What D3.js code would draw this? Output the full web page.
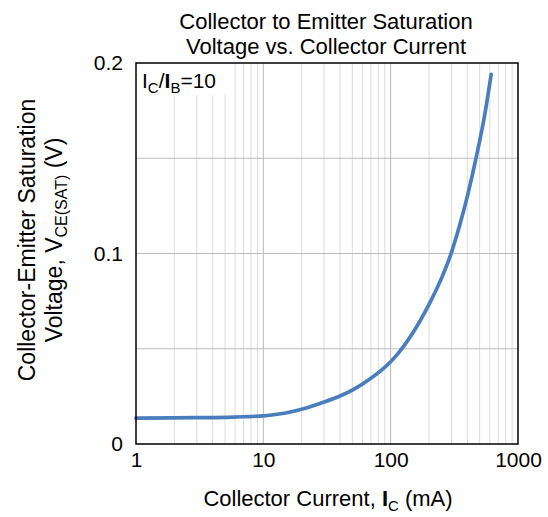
<!DOCTYPE html>
<html>
<head>
<meta charset="utf-8">
<script src="https://cdn.jsdelivr.net/npm/d3@7"></script>
<style>
  body { margin: 0; background: #fff; }
  text { font-family: "Liberation Sans", Arial, sans-serif; fill: #000; }
</style>
</head>
<body>
<div id="chart"></div>
<script>
// collector current (mA) and VCE(SAT) (V)
var currentMA = [1, 2, 3, 5, 7, 10, 15, 20, 30, 40, 50, 70, 100, 115, 150, 200, 250, 300, 350, 400, 475, 550, 615];
var vceSat = [0.0136, 0.0137, 0.0138, 0.0140, 0.0143, 0.0148, 0.0163, 0.0182, 0.0220, 0.0252, 0.0283, 0.0345, 0.0432, 0.0477, 0.0585, 0.0733, 0.0868, 0.1005, 0.1153, 0.1300, 0.1520, 0.1735, 0.1940];
var xTicks = [1, 10, 100, 1000];
var yTicks = [0, 0.1, 0.2];
var yGrid = [0.05, 0.1, 0.15];

var width = 548, height = 517,
    margin = {top: 63, right: 30, bottom: 73, left: 136},
    fs = 21, tfs = 22;

var svg = d3.select("#chart").append("svg")
    .attr("width", width).attr("height", height);

var x = d3.scaleLog()
    .domain([1, 1000])
    .range([margin.left, width - margin.right]);

var y = d3.scaleLinear()
    .domain([0, 0.2])
    .range([height - margin.bottom, margin.top]);

var data = currentMA.map(function(d, i) { return {i: d, v: vceSat[i]}; });

// grid
var minor = [];
[1, 10, 100].forEach(function(dec) {
    for (var k = 2; k <= 9; k++) minor.push(dec * k);
});

svg.append("g").selectAll("line").data(minor).enter().append("line")
    .attr("x1", function(d) { return x(d); }).attr("x2", function(d) { return x(d); })
    .attr("y1", y(0)).attr("y2", y(0.2))
    .attr("stroke", "#dcdcdc").attr("stroke-width", 1);

svg.append("g").selectAll("line").data([10, 100]).enter().append("line")
    .attr("x1", function(d) { return x(d); }).attr("x2", function(d) { return x(d); })
    .attr("y1", y(0)).attr("y2", y(0.2))
    .attr("stroke", "#b8b8b8").attr("stroke-width", 1);

svg.append("g").selectAll("line").data(yGrid).enter().append("line")
    .attr("x1", x(1)).attr("x2", x(1000))
    .attr("y1", function(d) { return y(d); }).attr("y2", function(d) { return y(d); })
    .attr("stroke", "#bcbcbc").attr("stroke-width", 1);

// label box
var lab = svg.append("g");
lab.append("rect")
    .attr("x", x(1)).attr("y", y(0.2))
    .attr("width", 92).attr("height", 32)
    .attr("fill", "#fff");
var lt = lab.append("text")
    .attr("x", x(1) + 6).attr("y", y(0.2) + 25)
    .style("font-size", "21px");
lt.append("tspan").text("I");
lt.append("tspan").attr("dy", 5).style("font-size", "15px").text("C");
lt.append("tspan").attr("dy", -5).text("/");
lt.append("tspan").style("font-weight", "bold").text("I");
lt.append("tspan").attr("dy", 5).style("font-size", "15px").text("B");
lt.append("tspan").attr("dy", -5).text("=10");

// curve
var line = d3.line()
    .x(function(d) { return x(d.i); })
    .y(function(d) { return y(d.v); })
    .curve(d3.curveMonotoneX);

svg.append("path")
    .datum(data)
    .attr("fill", "none")
    .attr("stroke", "#4a7dbd")
    .attr("stroke-width", 3.7)
    .attr("stroke-linecap", "round")
    .attr("d", line);

// frame
svg.append("rect")
    .attr("x", x(1)).attr("y", y(0.2))
    .attr("width", x(1000) - x(1)).attr("height", y(0) - y(0.2))
    .attr("fill", "none").attr("stroke", "#000").attr("stroke-width", 1.5);

// axes
var gx = svg.append("g")
    .attr("transform", "translate(0," + y(0) + ")")
    .call(d3.axisBottom(x).tickValues(xTicks).tickFormat(d3.format("d")).tickSize(0).tickPadding(8));
gx.select(".domain").remove();
gx.selectAll("text").style("font-size", fs + "px").style("font-family", "Liberation Sans, Arial, sans-serif");

var gy = svg.append("g")
    .attr("transform", "translate(" + x(1) + ",0)")
    .call(d3.axisLeft(y).tickValues(yTicks).tickFormat(d3.format("~g")).tickSize(0).tickPadding(13));
gy.select(".domain").remove();
gy.selectAll("text").style("font-size", fs + "px").style("font-family", "Liberation Sans, Arial, sans-serif");

// titles
svg.append("text").attr("x", 326).attr("y", 29).attr("text-anchor", "middle")
    .style("font-size", tfs + "px").text("Collector to Emitter Saturation");
svg.append("text").attr("x", 326).attr("y", 54).attr("text-anchor", "middle")
    .style("font-size", tfs + "px").text("Voltage vs. Collector Current");

var xt = svg.append("text").attr("x", 328).attr("y", 506).attr("text-anchor", "middle")
    .style("font-size", tfs + "px");
xt.append("tspan").text("Collector Current, ");
xt.append("tspan").style("font-weight", "bold").text("I");
xt.append("tspan").attr("dy", 5).style("font-size", "15px").text("C");
xt.append("tspan").attr("dy", -5).text(" (mA)");

var yt = svg.append("g").attr("transform", "translate(0,240) rotate(-90)");
yt.append("text").attr("x", 0).attr("y", 35).attr("text-anchor", "middle")
    .style("font-size", "23px").text("Collector-Emitter Saturation");
var yt2 = yt.append("text").attr("x", 0).attr("y", 62).attr("text-anchor", "middle")
    .style("font-size", "23px");
yt2.append("tspan").text("Voltage, V");
yt2.append("tspan").attr("dy", 5).style("font-size", "16px").text("CE(SAT)");
yt2.append("tspan").attr("dy", -5).text(" (V)");
</script>
</body>
</html>
